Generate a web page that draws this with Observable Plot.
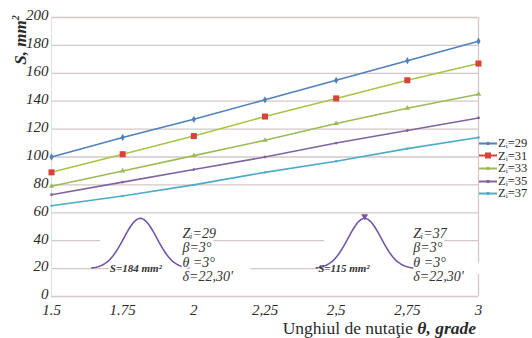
<!DOCTYPE html>
<html><head><meta charset="utf-8">
<script src="https://cdn.jsdelivr.net/npm/d3@7"></script>
<script src="https://cdn.jsdelivr.net/npm/@observablehq/plot@0.6"></script>
<style>
body{margin:0;background:#fff;}
#wrap{position:relative;width:532px;height:338px;overflow:hidden;font-family:"Liberation Serif","Times New Roman","DejaVu Serif",serif;color:#2a2a2a;}
#chart{position:absolute;left:0;top:0;}
#ylab{position:absolute;left:18px;top:40px;transform:translate(-50%,-50%) rotate(-90deg);white-space:nowrap;font-weight:bold;font-style:italic;font-size:17px;line-height:17px;}
#xlab{position:absolute;right:56px;top:320px;white-space:nowrap;font-size:17.5px;line-height:17px;}
#xlab b{font-style:italic;}
#legend{position:absolute;left:479px;top:137px;font-size:12.5px;line-height:12.6px;}
#legend div{display:flex;align-items:center;white-space:nowrap;height:12.6px;}
#legend svg{margin-right:1px;}
</style></head>
<body><div id="wrap"><div id="chart"></div>
<div id="ylab">S, mm<sup style="font-size:10px">2</sup></div>
<div id="xlab">Unghiul de nutaţie <b>θ, grade</b></div>
<div id="legend"></div></div>
<script>
// data
const thetas = [1.5, 1.75, 2, 2.25, 2.5, 2.75, 3];
const xTickLabels = ["1.5", "1.75", "2", "2,25", "2,5", "2,75", "3"];
const yTicks = [0, 20, 40, 60, 80, 100, 120, 140, 160, 180, 200];
const seriesNames = ["Zᵢ=29", "Zᵢ=31", "Zᵢ=33", "Zᵢ=35", "Zᵢ=37"];
const z29 = [100, 114, 127, 141, 155, 169, 183];
const z31 = [89, 102, 115, 129, 142, 155, 167];
const z33 = [79, 90, 101, 112, 124, 135, 145];
const z35 = [73, 82, 91, 100, 110, 119, 128];
const z37 = [65, 72, 80, 89, 97, 106, 114];
const insetArea = ["S=184 mm²", "S=115 mm²"];
const insetZ = ["Zᵢ=29", "Zᵢ=37"];
const insetParams = ["β=3°", "θ =3°", "δ=22,30'"];

// styling
const serif = "'Liberation Serif','Times New Roman','DejaVu Serif',serif";
const lineColors = ["#4f81bd", "#a8c545", "#9bbb59", "#8064a2", "#4bacc6"];
const markColors = ["#4f81bd", "#d9413a", "#9bbb59", "#8064a2", "#4bacc6"];
const symbols = ["diamond", "square", "triangle", "circle", "circle"];
const markR = [2.2, 3.4, 2, 1.4, 1.2];
const grid = "#d3c8c6";
const bellColor = "#7656a8";

const allSeries = [z29, z31, z33, z35, z37];
const rows = allSeries.map((vals, k) => thetas.map((t, i) => ({theta: t, S: vals[i], k})));

// inset annotation geometry (data units)
const insetCx = [1.812, 2.6];
const insetTextX = [1.96, 2.771];
const insetSX = [1.705, 2.437];
const bells = insetCx.map(cx => d3.range(-0.17, 0.1701, 0.005).map(u => ({x: cx + u, y: 20 + 36 * Math.exp(-(u * u) / (2 * 0.058 * 0.058))})));
const textRows = [45.5, 35, 24.5, 14];

const marks = [
  Plot.gridY(yTicks, {stroke: grid, strokeOpacity: 1, strokeWidth: 1.3}),
  Plot.ruleX([1.5], {stroke: "#e6dedd"}),
  Plot.ruleX([3], {stroke: grid, strokeWidth: 1.3}),
  Plot.axisY(yTicks, {tickSize: 0, tickPadding: 3, dy: -2, label: null, fontFamily: serif, fontStyle: "italic", fontSize: 15}),
  Plot.axisX(thetas, {tickSize: 0, tickPadding: 8, label: null, fontFamily: serif, fontStyle: "italic", fontSize: 15, tickFormat: d => xTickLabels[thetas.indexOf(d)]}),
];
// white backing of insets
insetCx.forEach((cx, j) => {
  marks.push(Plot.rect([0], {x1: cx - 0.14, x2: insetTextX[j] + 0.11, y1: 29, y2: 51, fill: "white"}));
  marks.push(Plot.rect([0], {x1: insetSX[j], x2: insetTextX[j] + 0.24, y1: 16, y2: 24, fill: "white"}));
});
// series
rows.forEach((r, k) => {
  marks.push(Plot.line(r, {x: "theta", y: "S", stroke: lineColors[k], strokeWidth: 1.6}));
  marks.push(Plot.dot(r, {x: "theta", y: "S", fill: markColors[k], symbol: symbols[k], r: markR[k]}));
});
// insets
bells.forEach((b, j) => {
  marks.push(Plot.line(b, {x: "x", y: "y", stroke: bellColor, strokeWidth: 1.6}));
  marks.push(Plot.text([insetArea[j]], {x: insetSX[j], y: 20, text: d => d, textAnchor: "start", fontFamily: serif, fontSize: 11, fontWeight: "bold", fontStyle: "italic", fill: "#333"}));
  const lines = [insetZ[j], ...insetParams];
  marks.push(Plot.text(lines, {x: insetTextX[j], y: (d, i) => textRows[i], text: d => d, textAnchor: "start", fontFamily: serif, fontSize: 14, fontStyle: "italic", fill: "#333", stroke: "white", strokeWidth: 4, paintOrder: "stroke"}));
});
marks.push(Plot.dot([0], {x: insetCx[1], y: 57.5, symbol: "triangle", rotate: 180, r: 2.6, fill: bellColor}));

const chart = Plot.plot({
  width: 532, height: 338,
  marginLeft: 51, marginRight: 54, marginTop: 17, marginBottom: 42,
  x: {domain: [1.5, 3]},
  y: {domain: [0, 200]},
  style: {fontFamily: serif, fontStyle: "italic", fontSize: "15px", color: "#2a2a2a", background: "white", overflow: "visible"},
  marks
});
document.getElementById("chart").appendChild(chart);

// legend
const leg = document.getElementById("legend");
seriesNames.forEach((name, k) => {
  const div = document.createElement("div");
  const sym = k === 1 ? '<rect x="6" y="2.5" width="6" height="6" fill="' + markColors[k] + '"/>' : '<circle cx="9" cy="5.5" r="1.8" fill="' + markColors[k] + '"/>';
  div.innerHTML = '<svg width="18" height="11"><line x1="0" x2="18" y1="5.5" y2="5.5" stroke="' + markColors[k] + '" stroke-width="2"/>' + sym + '</svg><span>' + name + '</span>';
  leg.appendChild(div);
});
</script></body></html>
